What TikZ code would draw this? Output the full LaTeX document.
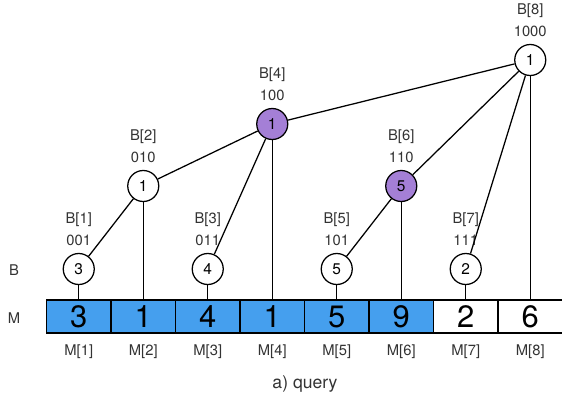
\documentclass[tikz,border=0pt]{standalone}
\usepackage{fontspec}
\setmainfont{TeX Gyre Heros}
\definecolor{cellblue}{HTML}{459FEE}
\definecolor{nodepurple}{HTML}{A47FD6}
\tikzset{
  cell/.style={draw, line width=0.9pt, minimum width=1.6125cm, minimum height=0.825cm, inner sep=0pt, font=\fontsize{22}{22}\selectfont},
  tree/.style={circle, draw, line width=0.9pt, minimum size=0.775cm, inner sep=0pt, font=\fontsize{11}{11}\selectfont},
  lbl/.style={text=black!80, font=\fontsize{10.5}{11}\selectfont},
  link/.style={line width=0.9pt}
}
\begin{document}
\begin{tikzpicture}[x=0.025cm, y=-0.025cm]
\useasboundingbox (0,0) rectangle (562,403);
% array M
\foreach \v/\fc [count=\i] in {3/cellblue,1/cellblue,4/cellblue,1/cellblue,5/cellblue,9/cellblue,2/white,6/white} {
  \pgfmathsetmacro{\cx}{14.25+64.5*\i}
  \node[cell, fill=\fc] (m\i) at (\cx,316.5) {\v};
  \node[lbl] (ml\i) at (\cx,352) {M[\i]};
}
% tree B
\foreach \v/\y/\code/\fc [count=\i] in {3/269/001/white,1/186/010/white,4/269/011/white,1/124/100/nodepurple,5/269/101/white,5/186/110/nodepurple,2/269/111/white,1/60/1000/white} {
  \pgfmathsetmacro{\cx}{14.25+64.5*\i}
  \node[tree, fill=\fc] (b\i) at (\cx,\y) {\v};
  \node[lbl] (bi\i) at (\cx,\y-49) {B[\i]};
  \node[lbl] (bc\i) at (\cx,\y-29) {\code};
}
\foreach \a/\b in {1/2,2/4,3/4,4/8,5/6,6/8,7/8}
  \draw[link] (b\a) -- (b\b);
\foreach \i in {1,...,8}
  \draw[link] (b\i) -- (m\i.north);
\node[lbl] (rowB) at (14,270) {B};
\node[lbl] (rowM) at (14,318) {M};
\node[lbl, font=\fontsize{12.5}{13}\selectfont] (cap) at (305,384) {a) query};
\end{tikzpicture}
\end{document}
